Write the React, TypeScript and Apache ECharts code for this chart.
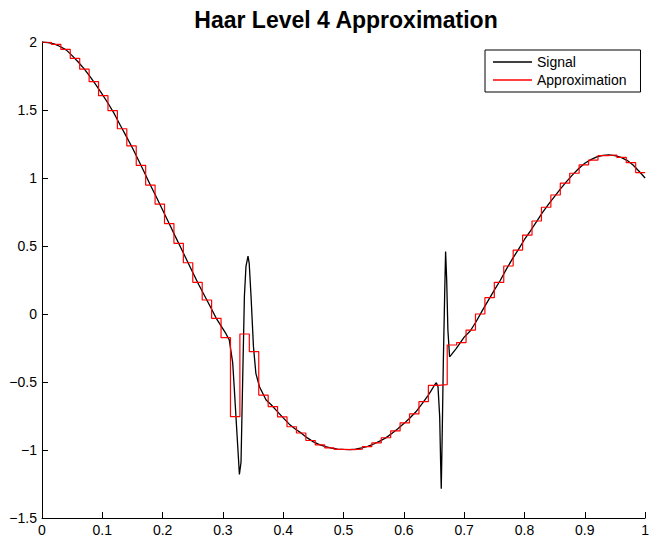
import React, { useEffect, useRef } from "react";
import * as echarts from "echarts";

const titleText = "Haar Level 4 Approximation";
const signalName = "Signal";
const approxName = "Approximation";

// Signal samples (x, y)
const signalX = [
  0, 0.01, 0.02, 0.03, 0.04, 0.05, 0.06, 0.07, 0.08, 0.09,
  0.1, 0.11, 0.12, 0.13, 0.14, 0.15, 0.16, 0.17, 0.18, 0.19,
  0.2, 0.21, 0.22, 0.23, 0.24, 0.25, 0.26, 0.27, 0.28, 0.29,
  0.3, 0.305, 0.3105, 0.3162, 0.319, 0.3216, 0.3246, 0.3273, 0.33, 0.3316,
  0.3333, 0.3356, 0.3382, 0.3416, 0.3436, 0.3466, 0.3506, 0.3546, 0.3606, 0.3716,
  0.38, 0.39, 0.4, 0.41, 0.42, 0.43, 0.44, 0.45, 0.46, 0.47,
  0.48, 0.49, 0.5, 0.51, 0.52, 0.53, 0.54, 0.55, 0.56, 0.57,
  0.58, 0.59, 0.6, 0.61, 0.62, 0.63, 0.64, 0.645, 0.651, 0.6538,
  0.6566, 0.6594, 0.661, 0.662, 0.6637, 0.6654, 0.6676, 0.6692, 0.671, 0.673,
  0.6758, 0.6785, 0.6867, 0.7, 0.71, 0.72, 0.73, 0.74, 0.75, 0.76,
  0.77, 0.78, 0.79, 0.8, 0.81, 0.82, 0.83, 0.84, 0.85, 0.86,
  0.87, 0.88, 0.89, 0.9, 0.91, 0.92, 0.93, 0.94, 0.95, 0.96,
  0.97, 0.98, 0.99, 1.0,
];
const signalY = [
  2.0, 1.996, 1.986, 1.967, 1.942, 1.9, 1.853, 1.802, 1.743, 1.681,
  1.615, 1.546, 1.471, 1.386, 1.304, 1.221, 1.13, 1.038, 0.945, 0.856,
  0.765, 0.673, 0.58, 0.489, 0.397, 0.305, 0.215, 0.131, 0.046, -0.04,
  -0.11, -0.145, -0.19, -0.36, -0.56, -0.755, -0.976, -1.18, -1.09, -0.73,
  -0.36, 0.13, 0.35, 0.426, 0.37, 0.13, -0.24, -0.436, -0.535, -0.632,
  -0.667, -0.716, -0.764, -0.81, -0.846, -0.876, -0.911, -0.94, -0.961, -0.976,
  -0.987, -0.994, -0.996, -0.997, -0.994, -0.985, -0.974, -0.956, -0.935, -0.911,
  -0.879, -0.844, -0.806, -0.765, -0.719, -0.661, -0.6, -0.565, -0.522, -0.505,
  -0.534, -0.755, -1.098, -1.285, -0.853, -0.36, 0.13, 0.46, 0.25, -0.118,
  -0.314, -0.3, -0.255, -0.17, -0.125, -0.055, 0.025, 0.1, 0.175, 0.248,
  0.33, 0.405, 0.475, 0.548, 0.612, 0.68, 0.748, 0.808, 0.865, 0.922,
  0.975, 1.025, 1.07, 1.108, 1.135, 1.155, 1.166, 1.17, 1.165, 1.152,
  1.13, 1.095, 1.05, 1.0,
];

// Level-4 Haar approximation: 64 block values
const approxValues = [
  1.998, 1.983, 1.946, 1.88, 1.8, 1.708, 1.605, 1.495,
  1.362, 1.236, 1.093, 0.948, 0.808, 0.665, 0.52, 0.377,
  0.233, 0.103, -0.032, -0.174, -0.755, -0.147, -0.277, -0.596,
  -0.681, -0.757, -0.829, -0.875, -0.93, -0.963, -0.985, -0.995,
  -0.997, -0.993, -0.975, -0.948, -0.91, -0.86, -0.8, -0.735,
  -0.645, -0.525, -0.52, -0.228, -0.21, -0.118, 0.0, 0.12,
  0.233, 0.353, 0.47, 0.58, 0.684, 0.785, 0.875, 0.962,
  1.035, 1.096, 1.132, 1.165, 1.169, 1.152, 1.113, 1.04,
];

const FONT = '"Liberation Sans", Arial, Helvetica, sans-serif';

const fmt = (v: number) => {
  const s = String(Number(v.toFixed(2)));
  return s.replace("-", "\u2212");
};

export default function App() {
  const ref = useRef<HTMLDivElement>(null);
  useEffect(() => {
    if (!ref.current) return;
    const chart = echarts.init(ref.current, null, { renderer: "svg" });
    const n = approxValues.length;
    const approxData: number[][] = approxValues.map((v, j) => [j / n, v]);
    approxData.push([1, approxValues[n - 1]]);
    const signalData = signalX.map((x, i) => [x, signalY[i]]);

    chart.setOption({
      animation: false,
      backgroundColor: "#ffffff",
      textStyle: { fontFamily: FONT },
      graphic: [
        {
          type: "text",
          x: 346,
          y: 20,
          style: {
            text: titleText,
            align: "center",
            verticalAlign: "middle",
            fontSize: 23,
            fontWeight: "bold",
            fontFamily: FONT,
            fill: "#000",
          },
        },
      ],
      legend: {
        data: [
          { name: signalName, icon: "rect", itemStyle: { color: "#000" } },
          { name: approxName, icon: "rect", itemStyle: { color: "#ff0000" } },
        ],
        orient: "vertical",
        left: 485,
        top: 50,
        padding: [5, 14, 5, 8],
        itemWidth: 39,
        itemHeight: 1.5,
        itemGap: 4,
        borderColor: "#000",
        borderWidth: 1,
        backgroundColor: "#fff",
        textStyle: {
          fontSize: 14,
          color: "#000",
          fontFamily: FONT,
          lineHeight: 14,
          padding: [0, 0, 0, 0],
        },
      },
      grid: { left: 42, right: 2, top: 42, bottom: 20, containLabel: false },
      xAxis: {
        type: "value",
        min: 0,
        max: 1,
        interval: 0.1,
        axisLine: { show: true, onZero: false, lineStyle: { color: "#000", width: 1 } },
        axisTick: { show: true, inside: true, length: 6, lineStyle: { color: "#000" } },
        axisLabel: {
          color: "#000",
          fontSize: 14,
          fontFamily: FONT,
          margin: 5,
          showMinLabel: true,
          showMaxLabel: true,
          formatter: (v: number) => fmt(v),
        },
        splitLine: { show: false },
      },
      yAxis: {
        type: "value",
        min: -1.5,
        max: 2,
        interval: 0.5,
        axisLine: { show: true, onZero: false, lineStyle: { color: "#000", width: 1 } },
        axisTick: { show: true, inside: true, length: 6, lineStyle: { color: "#000" } },
        axisLabel: {
          color: "#000",
          fontSize: 14,
          fontFamily: FONT,
          margin: 5,
          showMinLabel: true,
          showMaxLabel: true,
          formatter: (v: number) => fmt(v),
        },
        splitLine: { show: false },
      },
      series: [
        {
          name: signalName,
          type: "line",
          data: signalData,
          symbol: "none",
          showSymbol: false,
          lineStyle: { color: "#000", width: 1.3 },
          itemStyle: { color: "#000" },
          z: 2,
        },
        {
          name: approxName,
          type: "line",
          step: "end",
          data: approxData,
          symbol: "none",
          showSymbol: false,
          lineStyle: { color: "#ff0000", width: 1.2 },
          itemStyle: { color: "#ff0000" },
          z: 3,
        },
      ],
    });
    return () => chart.dispose();
  }, []);
  return (
    <div
      ref={ref}
      style={{ position: "absolute", left: 0, top: 0, width: 652, height: 538 }}
    />
  );
}
